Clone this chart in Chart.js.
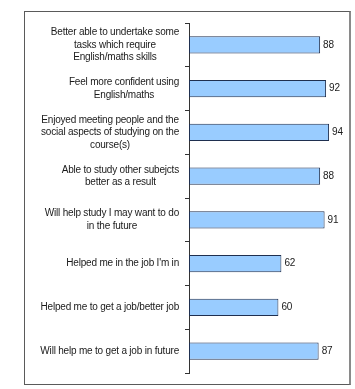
<!DOCTYPE html>
<html>
<head>
<meta charset="utf-8">
<script src="https://cdn.jsdelivr.net/npm/chart.js@4/dist/chart.umd.min.js"></script>
<style>
  html, body { margin: 0; padding: 0; background: #fff; }
  #box { position: absolute; left: 24px; top: 11px; width: 324px; height: 372px; border: 1px solid #5a5a5a; border-right: 2px solid #8a8a8a; }
  #box canvas { display: block; }
</style>
</head>
<body>
<div id="box"><canvas id="c" width="324" height="372"></canvas></div>
<script>
const categories = [
  ["Better able to undertake some", "tasks which require", "English/maths skills"],
  ["Feel more confident using", "English/maths"],
  ["Enjoyed meeting people and the", "social aspects of studying on the", "course(s)"],
  ["Able to study other subejcts", "better as a result"],
  ["Will help study I may want to do", "in the future"],
  ["Helped me in the job I'm in"],
  ["Helped me to get a job/better job"],
  ["Will help me to get a job in future"]
];
const values = [88, 92, 94, 88, 91, 62, 60, 87];
const xMin = 0;
const xMax = 100;

const FONT = '10px "Liberation Sans", Arial, sans-serif';
const TEXT = '#1a1a1a';

const labelPlugin = {
  id: 'labels',
  afterDraw(chart) {
    const ctx = chart.ctx;
    const ys = chart.scales.y;
    const meta = chart.getDatasetMeta(0);
    ctx.save();
    ctx.font = FONT;
    if ('letterSpacing' in ctx) ctx.letterSpacing = '-0.2px';
    ctx.fillStyle = TEXT;
    ctx.textBaseline = 'middle';
    const rightEdge = ys.right - 10;
    const lh = 12.5;
    categories.forEach((lines, i) => {
      const y = ys.getPixelForValue(i);
      let maxW = 0;
      lines.forEach(l => { maxW = Math.max(maxW, ctx.measureText(l).width); });
      const cx = rightEdge - maxW / 2;
      ctx.textAlign = 'center';
      lines.forEach((l, k) => {
        const ly = y + (k - (lines.length - 1) / 2) * lh;
        ctx.fillText(l, cx, ly);
      });
    });
    ctx.textAlign = 'left';
    meta.data.forEach((bar, i) => {
      ctx.fillText(String(values[i]), bar.x + 3, bar.y);
    });
    ctx.restore();
  }
};

new Chart(document.getElementById('c'), {
  type: 'bar',
  data: {
    labels: categories,
    datasets: [{
      data: values,
      backgroundColor: '#99ccff',
      borderColor: '#1f2f4f',
      borderWidth: 1,
      borderSkipped: false,
      barPercentage: 0.39,
      categoryPercentage: 1
    }]
  },
  options: {
    indexAxis: 'y',
    responsive: false,
    animation: false,
    layout: { padding: { left: 0, right: 11, top: 11, bottom: 11 } },
    plugins: { legend: { display: false }, tooltip: { enabled: false } },
    scales: {
      x: { display: false, min: xMin, max: xMax },
      y: {
        offset: true,
        afterFit(scale) { scale.width = 164; },
        ticks: { display: false },
        grid: { display: true, drawOnChartArea: false, drawTicks: true, tickLength: 4, color: '#333', offset: true },
        border: { display: true, color: '#333', width: 1 }
      }
    }
  },
  plugins: [labelPlugin]
});
</script>
</body>
</html>
